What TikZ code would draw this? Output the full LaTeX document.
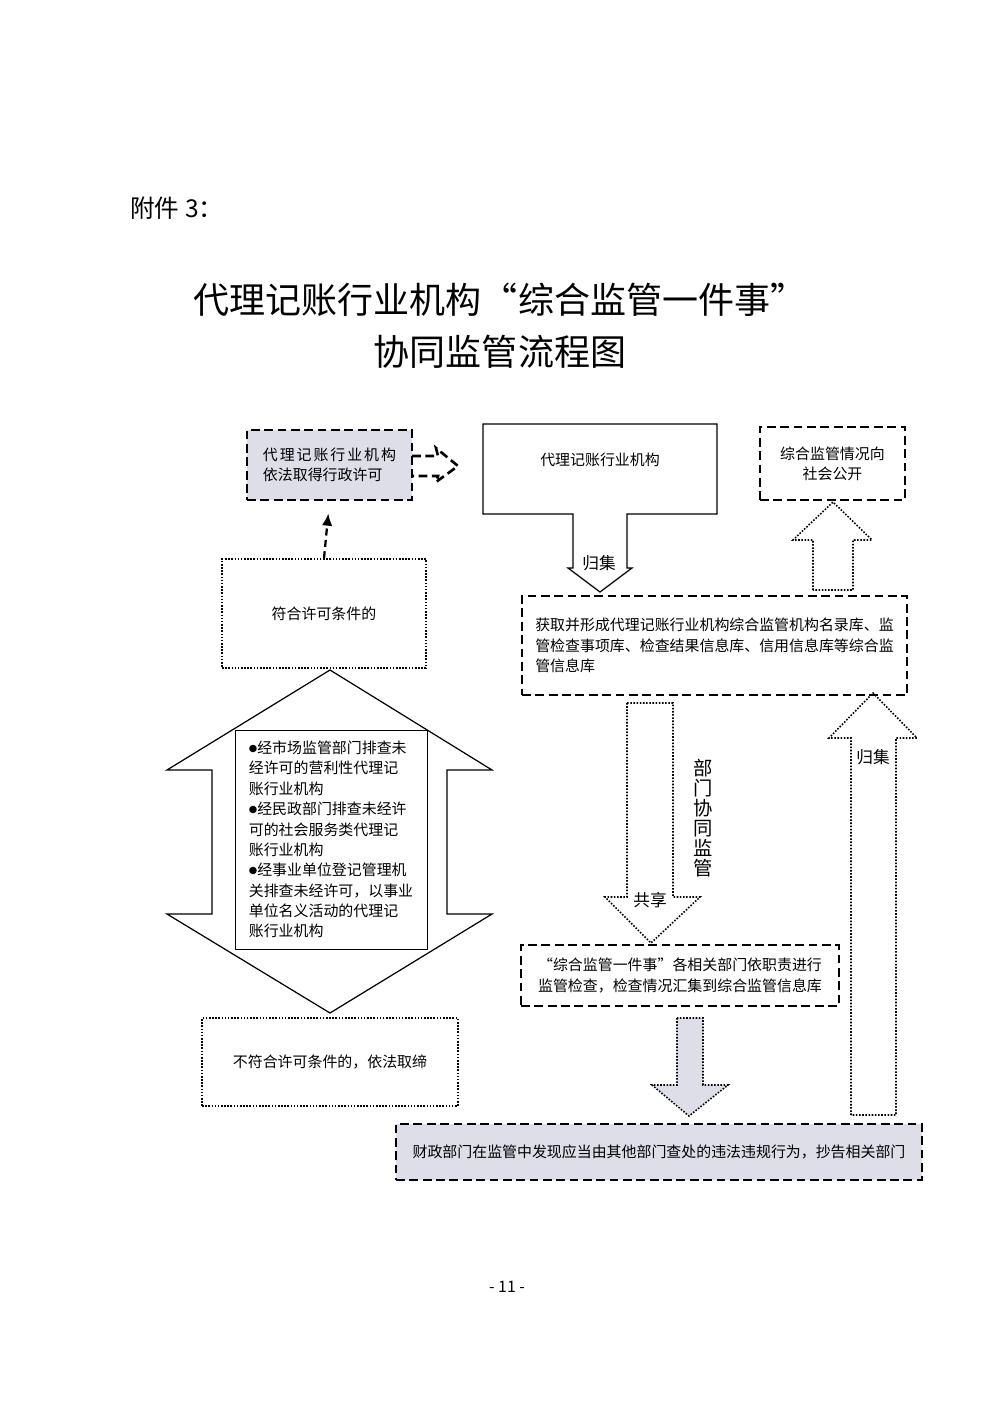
\documentclass[tikz,border=0pt]{standalone}
\usepackage{fontspec}
\setmainfont{Noto Sans CJK SC}
\newfontfamily\symfont{DejaVu Sans}
\usetikzlibrary{positioning,calc,arrows.meta}
\definecolor{boxgray}{RGB}{221,222,232}
\newcommand{\qopen}{\makebox[1em][r]{“}}
\newcommand{\qclose}{\makebox[1em][l]{”}}
\newcommand{\dotmark}{\raisebox{0.12em}{\symfont\fontsize{5.5}{6}\selectfont ●}}

\tikzset{
  dashbox/.style={draw=black,line width=1.6pt,dash pattern=on 5pt off 2.6pt},
  dotbox/.style={draw=black,line width=0.9pt,dash pattern=on 0.9pt off 0.9pt},
  solidbox/.style={draw=black,line width=0.7pt},
  lbl/.style={font=\fontsize{9.5}{11}\selectfont}
}

\begin{document}
\begin{tikzpicture}[x=0.02cm,y=-0.02cm,
  every node/.style={font=\fontsize{8.5}{11.6}\selectfont,inner sep=0pt}]
  \fill[white] (0,0) rectangle (1000,1414);
  \useasboundingbox (0,0) rectangle (1000,1414);

  % heading and title
  \node[anchor=west,font=\fontsize{14}{16}\selectfont] (annex) at (130,208) {附件 3：};
  \node[align=center,font=\fontsize{20.5}{29.5}\selectfont] (title) at (500,326)
    {代理记账行业机构\qopen 综合监管一件事\qclose\\协同监管流程图};

  % boxes
  \node[dashbox,fill=boxgray,minimum width=3.3cm,minimum height=1.4cm,align=left] (permit) at (329.5,465)
    {{\addfontfeature{LetterSpace=13}代理记账行业机构}\\依法取得行政许可};
  \node (agency) at (600,460) {代理记账行业机构};
  \node[dashbox,minimum width=2.9cm,minimum height=1.46cm,align=center] (public) at (832.5,463.5)
    {综合监管情况向\\社会公开};
  \node[dotbox,minimum width=4.08cm,minimum height=2.18cm] (qualified) at (324,613.5) {符合许可条件的};
  \node[dashbox,minimum width=7.7cm,minimum height=1.98cm,align=left] (database) at (714.5,645.5)
    {获取并形成代理记账行业机构综合监管机构名录库、监\\
     管检查事项库、检查结果信息库、信用信息库等综合监\\
     管信息库};
  \node[dotbox,minimum width=5.12cm,minimum height=1.76cm] (banned) at (330,1062) {不符合许可条件的，依法取缔};
  \node[dashbox,minimum width=6.36cm,minimum height=1.22cm,align=center] (joint) at (680,975.5)
    {\qopen 综合监管一件事\qclose 各相关部门依职责进行\\监管检查，检查情况汇集到综合监管信息库};
  \node[dashbox,fill=boxgray,minimum width=10.52cm,minimum height=1.12cm] (report) at (659,1152)
    {财政部门在监管中发现应当由其他部门查处的违法违规行为，抄告相关部门};

  % agency box with its arrow
  \draw[solidbox] (483,424) -- (717,424) -- (717,514) -- (627,514) -- (627,568) -- (632,568)
    -- (600,592) -- (568,568) -- (573,568) -- (573,514) -- (483,514) -- cycle;
  \node[lbl] (collect1) at (599,563) {归集};

  % permit -> agency
  \draw[dashbox,line width=1.5pt,line join=miter] (412,456) -- (438,456) -- (436,448) -- (458,466)
    -- (436,482) -- (438,476) -- (412,476);

  % qualified -> permit
  \draw[-{Latex[length=7pt,width=6pt]},line width=1.3pt,dash pattern=on 4pt off 2.5pt,
    shorten >=0.24cm] (qualified.north) -- (permit.south);

  % double arrow
  \draw[solidbox] (330,670) -- (492,770) -- (447,770) -- (447,914) -- (492,914) -- (330,1013)
    -- (167,914) -- (212,914) -- (212,770) -- (167,770) -- cycle;
  \node[draw,line width=0.5pt,minimum width=3.84cm,minimum height=4.38cm,align=left] (check) at (331,839.5)
    {\dotmark 经市场监管部门排查未\\经许可的营利性代理记\\账行业机构\\
     \dotmark 经民政部门排查未经许\\可的社会服务类代理记\\账行业机构\\
     \dotmark 经事业单位登记管理机\\关排查未经许可，以事业\\单位名义活动的代理记\\账行业机构};

  % database -> public
  \draw[dotbox] (813,590) -- (813,540) -- (793,540) -- (833,502) -- (872,540) -- (853,540)
    -- (853,590) -- cycle;

  % database -> joint
  \draw[dotbox] (627,703) -- (627,897) -- (605,897) -- (651,943) -- (700,897) -- (673,897)
    -- (673,703) -- cycle;
  \node[lbl] (share) at (650,900) {共享};
  \node[align=center,font=\fontsize{11}{11.3}\selectfont] (coop) at (703,818)
    {部\\门\\协\\同\\监\\管};

  % joint -> report
  \draw[dotbox,fill=boxgray] (677,1018) -- (677,1085) -- (652,1085) -- (689,1116) -- (728,1085)
    -- (703,1085) -- (703,1018) -- cycle;

  % report -> database
  \draw[dotbox] (851,1115) -- (851,738) -- (829,738) -- (873,693) -- (917,738) -- (896,738)
    -- (896,1115) -- cycle;
  \node[lbl] (collect2) at (873,757) {归集};

  % page number
  \node[font=\fontsize{9}{11}\selectfont] (page) at (507,1287) {- 11 -};
\end{tikzpicture}
\end{document}
